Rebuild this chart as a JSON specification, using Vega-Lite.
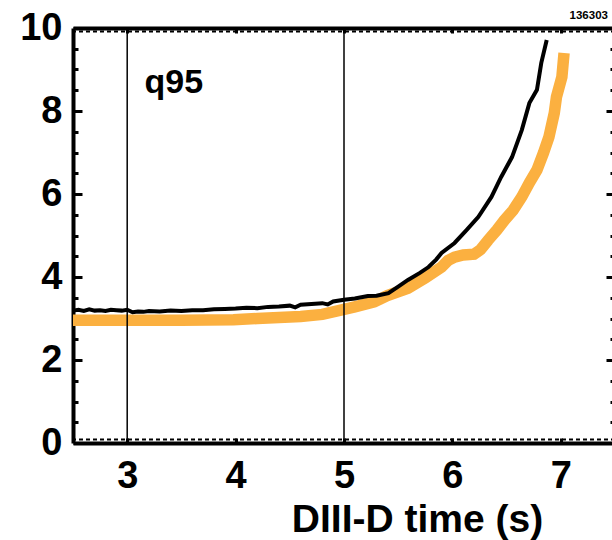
{
  "$schema": "https://vega.github.io/schema/vega-lite/v6.json",
  "width": 542,
  "height": 415,
  "autosize": {"type": "none"},
  "padding": {"left": 73, "top": 28, "right": 0, "bottom": 97},
  "config": {
    "view": {"stroke": null},
    "font": "Liberation Sans",
    "axis": {
      "grid": false,
      "domainColor": "black",
      "tickColor": "black",
      "labelColor": "black",
      "titleColor": "black",
      "labelFont": "Liberation Sans",
      "titleFont": "Liberation Sans",
      "labelFontWeight": "bold",
      "titleFontWeight": "bold"
    }
  },
  "resolve": {"axis": {"x": "independent", "y": "independent"}},
  "layer": [
    {
      "data": {"values": [
        {"t": 2.5, "q": 2.96}, {"t": 3.0, "q": 2.96}, {"t": 3.5, "q": 2.96}, {"t": 3.98, "q": 2.97},
        {"t": 4.2, "q": 3.0}, {"t": 4.6, "q": 3.05}, {"t": 4.8, "q": 3.1}, {"t": 4.97, "q": 3.2},
        {"t": 5.1, "q": 3.28}, {"t": 5.28, "q": 3.4}, {"t": 5.4, "q": 3.55}, {"t": 5.59, "q": 3.73},
        {"t": 5.75, "q": 3.98}, {"t": 5.9, "q": 4.24}, {"t": 5.96, "q": 4.4}, {"t": 6.02, "q": 4.48},
        {"t": 6.1, "q": 4.53}, {"t": 6.2, "q": 4.55}, {"t": 6.26, "q": 4.66}, {"t": 6.33, "q": 4.89},
        {"t": 6.41, "q": 5.13}, {"t": 6.48, "q": 5.37}, {"t": 6.56, "q": 5.61}, {"t": 6.64, "q": 5.93},
        {"t": 6.71, "q": 6.27}, {"t": 6.78, "q": 6.58}, {"t": 6.84, "q": 6.99}, {"t": 6.89, "q": 7.37},
        {"t": 6.94, "q": 7.95}, {"t": 6.96, "q": 8.34}, {"t": 7.01, "q": 8.82}, {"t": 7.03, "q": 9.4}
      ]},
      "mark": {"type": "line", "color": "#fbb040", "strokeWidth": 11.5, "strokeCap": "butt"},
      "encoding": {
        "x": {
          "field": "t", "type": "quantitative",
          "scale": {"domain": [2.5, 7.5], "nice": false, "zero": false},
          "axis": {
            "orient": "bottom",
            "values": [3, 4, 5, 6, 7],
            "domainWidth": 4,
            "tickWidth": 3,
            "tickSize": -5,
            "labelFontSize": 38,
            "labelBaseline": "alphabetic",
            "labelPadding": 49,
            "title": "DIII-D time (s)",
            "titleFontSize": 39,
            "titleAlign": "center",
            "titleBaseline": "alphabetic",
            "titleX": 344,
            "titleY": 88
          }
        },
        "y": {
          "field": "q", "type": "quantitative",
          "scale": {"domain": [0, 10], "nice": false},
          "axis": {
            "orient": "left",
            "values": [0, 0.5, 1, 1.5, 2, 2.5, 3, 3.5, 4, 4.5, 5, 5.5, 6, 6.5, 7, 7.5, 8, 8.5, 9, 9.5, 10],
            "labelExpr": "datum.value % 2 === 0 ? format(datum.value, 'd') : ''",
            "domainWidth": 4,
            "tickWidth": 3,
            "tickSize": {"condition": {"test": "datum.value % 2 === 0", "value": -9}, "value": -5},
            "labelFontSize": 38,
            "labelBaseline": "middle",
            "labelPadding": 20,
            "title": null
          }
        }
      }
    },
    {
      "data": {"values": [
        {"t": 2.5, "q": 3.19}, {"t": 2.55, "q": 3.21}, {"t": 2.6, "q": 3.18}, {"t": 2.65, "q": 3.22},
        {"t": 2.7, "q": 3.19}, {"t": 2.75, "q": 3.2}, {"t": 2.8, "q": 3.18}, {"t": 2.85, "q": 3.21},
        {"t": 2.9, "q": 3.2}, {"t": 2.95, "q": 3.19}, {"t": 3.0, "q": 3.21}, {"t": 3.05, "q": 3.15},
        {"t": 3.1, "q": 3.17}, {"t": 3.15, "q": 3.16}, {"t": 3.2, "q": 3.18}, {"t": 3.3, "q": 3.17},
        {"t": 3.4, "q": 3.19}, {"t": 3.5, "q": 3.18}, {"t": 3.6, "q": 3.2}, {"t": 3.7, "q": 3.2},
        {"t": 3.8, "q": 3.22}, {"t": 3.9, "q": 3.23}, {"t": 4.0, "q": 3.24}, {"t": 4.1, "q": 3.26},
        {"t": 4.2, "q": 3.25}, {"t": 4.3, "q": 3.28}, {"t": 4.4, "q": 3.29}, {"t": 4.5, "q": 3.31},
        {"t": 4.55, "q": 3.27}, {"t": 4.6, "q": 3.33}, {"t": 4.7, "q": 3.35}, {"t": 4.8, "q": 3.37},
        {"t": 4.85, "q": 3.34}, {"t": 4.9, "q": 3.41}, {"t": 5.0, "q": 3.45}, {"t": 5.1, "q": 3.48},
        {"t": 5.22, "q": 3.54}, {"t": 5.3, "q": 3.55}, {"t": 5.41, "q": 3.61}, {"t": 5.5, "q": 3.77},
        {"t": 5.59, "q": 3.93}, {"t": 5.7, "q": 4.1}, {"t": 5.78, "q": 4.24}, {"t": 5.85, "q": 4.42},
        {"t": 5.9, "q": 4.58}, {"t": 6.02, "q": 4.82}, {"t": 6.13, "q": 5.13}, {"t": 6.24, "q": 5.45},
        {"t": 6.36, "q": 5.93}, {"t": 6.45, "q": 6.41}, {"t": 6.55, "q": 6.89}, {"t": 6.64, "q": 7.54},
        {"t": 6.71, "q": 8.19}, {"t": 6.78, "q": 8.51}, {"t": 6.82, "q": 9.16}, {"t": 6.87, "q": 9.71}
      ]},
      "mark": {"type": "line", "color": "black", "strokeWidth": 4},
      "encoding": {
        "x": {"field": "t", "type": "quantitative", "scale": {"domain": [2.5, 7.5], "nice": false, "zero": false}, "axis": null},
        "y": {"field": "q", "type": "quantitative", "scale": {"domain": [0, 10], "nice": false}, "axis": null}
      }
    },
    {
      "data": {"values": [{"t": 3}, {"t": 5}]},
      "mark": {"type": "rule", "color": "black", "strokeWidth": 1.5},
      "encoding": {
        "x": {"field": "t", "type": "quantitative", "scale": {"domain": [2.5, 7.5], "nice": false, "zero": false}, "axis": null}
      }
    },
    {
      "data": {"values": [{"t": 3.16, "q": 8.43, "label": "q95"}]},
      "mark": {"type": "text", "align": "left", "baseline": "alphabetic", "fontSize": 34, "fontWeight": "bold", "font": "Liberation Sans", "color": "black"},
      "encoding": {
        "x": {"field": "t", "type": "quantitative", "scale": {"domain": [2.5, 7.5], "nice": false, "zero": false}, "axis": null},
        "y": {"field": "q", "type": "quantitative", "scale": {"domain": [0, 10], "nice": false}, "axis": null},
        "text": {"field": "label"}
      }
    },
    {
      "data": {"values": [{"t": 7.435, "q": 10.22, "label": "136303"}]},
      "mark": {"type": "text", "align": "right", "baseline": "alphabetic", "fontSize": 11.5, "fontWeight": "bold", "font": "Liberation Sans", "color": "black", "clip": false},
      "encoding": {
        "x": {"field": "t", "type": "quantitative", "scale": {"domain": [2.5, 7.5], "nice": false, "zero": false}, "axis": null},
        "y": {"field": "q", "type": "quantitative", "scale": {"domain": [0, 10], "nice": false}, "axis": null},
        "text": {"field": "label"}
      }
    },
    {
      "data": {"values": [{"q": 0}]},
      "mark": {"type": "rule", "color": "black", "strokeWidth": 2, "strokeDash": [4, 3], "yOffset": -3.5},
      "encoding": {
        "y": {"field": "q", "type": "quantitative", "scale": {"domain": [0, 10], "nice": false}, "axis": null}
      }
    },
    {
      "data": {"values": [{"q": 10}]},
      "mark": {"type": "rule", "color": "black", "strokeWidth": 2, "strokeDash": [4, 3], "yOffset": 3.5},
      "encoding": {
        "y": {"field": "q", "type": "quantitative", "scale": {"domain": [0, 10], "nice": false}, "axis": null}
      }
    },
    {
      "data": {"values": [{"t": 2.5, "q": 0}, {"t": 7.5, "q": 10}]},
      "mark": {"type": "point", "opacity": 0},
      "encoding": {
        "x": {
          "field": "t", "type": "quantitative",
          "scale": {"domain": [2.5, 7.5], "nice": false, "zero": false},
          "axis": {"orient": "top", "values": [3, 4, 5, 6, 7], "domainWidth": 4, "tickWidth": 3, "tickSize": -5, "labels": false, "title": null}
        },
        "y": {
          "field": "q", "type": "quantitative",
          "scale": {"domain": [0, 10], "nice": false},
          "axis": {
            "orient": "right",
            "values": [0, 0.5, 1, 1.5, 2, 2.5, 3, 3.5, 4, 4.5, 5, 5.5, 6, 6.5, 7, 7.5, 8, 8.5, 9, 9.5, 10],
            "domainWidth": 4,
            "tickWidth": 3,
            "tickSize": {"condition": {"test": "datum.value % 2 === 0", "value": -9}, "value": -5},
            "labels": false,
            "title": null
          }
        }
      }
    }
  ]
}
